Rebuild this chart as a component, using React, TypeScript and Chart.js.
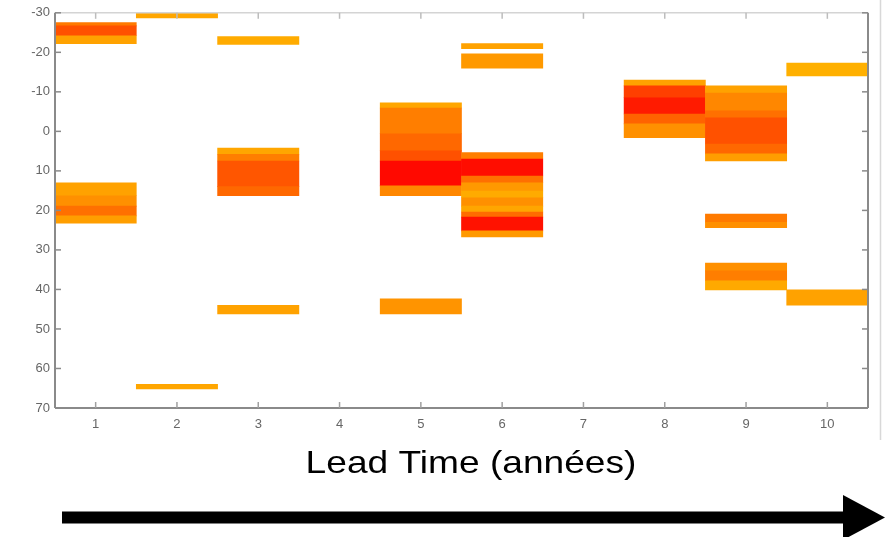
import { useEffect, useRef } from "react";
import { Chart, registerables } from "chart.js";

Chart.register(...registerables);

// Lead time categories (x) and depth tick labels (y)
const leadTimes = [1, 2, 3, 4, 5, 6, 7, 8, 9, 10];
const yTickValues = [-30, -20, -10, 0, 10, 20, 30, 40, 50, 60, 70];
const xAxisTitle = "Lead Time (années)";

// Heat-map bands: lead time, lower and upper value, intensity (0 = light orange, 1 = red)
const bandLead = [
  1, 1, 1, 1, 1, 1, 1,
  2, 2,
  3, 3, 3, 3, 3, 3,
  5, 5, 5, 5, 5, 5, 5,
  6, 6, 6, 6, 6, 6, 6, 6, 6, 6, 6, 6,
  8, 8, 8, 8, 8,
  9, 9, 9, 9, 9, 9, 9, 9, 9, 9, 9,
  10, 10,
];
const bandLow = [
  -27.5, -26.7, -24.2, 13, 16.3, 18.9, 21.4,
  -30, 64,
  -24, 4.2, 5.8, 7.5, 14, 44,
  -7.2, -5.9, 0.6, 4.9, 7.5, 13.8, 42.4,
  -22.2, -19.6, 5.4, 7.0, 11.3, 13.0, 15.1, 16.8, 18.9, 20.4, 21.7, 25.2,
  -13.0, -11.5, -8.5, -4.4, -1.9,
  -11.5, -9.7, -5.2, -3.4, 3.2, 5.7, 20.9, 23.0, 33.3, 35.3, 37.8,
  -17.3, 40.1,
];
const bandHigh = [
  -26.7, -24.2, -22.2, 16.3, 18.9, 21.4, 23.2,
  -28.7, 65.2,
  -22, 5.8, 7.5, 14, 16.3, 46.2,
  -5.9, 0.6, 4.9, 7.5, 13.8, 16.3, 46.2,
  -20.9, -16, 7.0, 11.3, 13.0, 15.1, 16.8, 18.9, 20.4, 21.7, 25.2, 26.7,
  -11.5, -8.5, -4.4, -1.9, 1.6,
  -9.7, -5.2, -3.4, 3.2, 5.7, 7.5, 23.0, 24.4, 35.3, 37.8, 40.1,
  -14.0, 44.0,
];
const bandHeat = [
  0.32, 0.55, 0.1, 0.1, 0.2, 0.38, 0.12,
  0.08, 0.08,
  0.05, 0.08, 0.3, 0.52, 0.42, 0.1,
  0.08, 0.3, 0.42, 0.55, 0.95, 0.25, 0.18,
  0.1, 0.15, 0.3, 0.93, 0.38, 0.15, 0.05, 0.2, 0.08, 0.4, 0.9, 0.15,
  0.1, 0.65, 0.85, 0.45, 0.2,
  0.1, 0.25, 0.38, 0.55, 0.42, 0.12, 0.32, 0.2, 0.2, 0.3, 0.06,
  0.02, 0.1,
];

const heatColor = (h: number) => `rgb(255, ${Math.round(180 * (1 - h))}, 0)`;

const framePlugin = {
  id: "matlabFrame",
  afterDatasetsDraw(chart: any) {
    const { ctx, chartArea, scales } = chart;
    const { left, right, top, bottom } = chartArea;
    const xs = scales.x;
    const ys = scales.y;
    const line = (x1: number, y1: number, x2: number, y2: number) => {
      ctx.beginPath();
      ctx.moveTo(x1, y1);
      ctx.lineTo(x2, y2);
      ctx.stroke();
    };
    ctx.save();
    // top border + ticks (light)
    ctx.strokeStyle = "#d4d4d4";
    ctx.lineWidth = 1.5;
    line(left, top, right, top);
    ctx.strokeStyle = "#bdbdbd";
    ctx.lineWidth = 1.5;
    xs.ticks.forEach((t: any) => {
      const px = xs.getPixelForValue(t.value);
      line(px, top, px, top + 6);
    });
    // dark axes
    ctx.strokeStyle = "#8a8a8a";
    ctx.lineWidth = 2;
    line(left, top, left, bottom);
    line(left, bottom, right, bottom);
    line(right, top, right, bottom);
    ctx.lineWidth = 1.5;
    ys.ticks.forEach((t: any) => {
      const py = ys.getPixelForValue(t.value);
      line(left, py, left + 6, py);
      line(right - 6, py, right, py);
    });
    ctx.strokeStyle = "#a0a0a0";
    xs.ticks.forEach((t: any) => {
      const px = xs.getPixelForValue(t.value);
      line(px, bottom, px, bottom - 6);
    });
    ctx.restore();
  },
  afterDraw(chart: any) {
    const { ctx } = chart;
    ctx.save();
    // faint border artifact on the right
    ctx.strokeStyle = "#d8d8d8";
    ctx.lineWidth = 1.5;
    ctx.beginPath();
    ctx.moveTo(880.5, 0);
    ctx.lineTo(880.5, 440);
    ctx.stroke();
    // x-axis title
    ctx.fillStyle = "#000";
    ctx.font = '32px "Liberation Sans", Arial, sans-serif';
    ctx.textAlign = "center";
    ctx.textBaseline = "alphabetic";
    ctx.translate(471, 473);
    ctx.scale(1.16, 1);
    ctx.fillText(xAxisTitle, 0, 0);
    ctx.setTransform(1, 0, 0, 1, 0, 0);
    // arrow
    ctx.fillStyle = "#000";
    ctx.fillRect(62, 511.5, 784, 12);
    ctx.beginPath();
    ctx.moveTo(843, 495);
    ctx.lineTo(885, 517.5);
    ctx.lineTo(843, 540);
    ctx.closePath();
    ctx.fill();
    ctx.restore();
  },
};

export default function App() {
  const canvasRef = useRef<HTMLCanvasElement | null>(null);

  useEffect(() => {
    const canvas = canvasRef.current;
    if (!canvas) return;
    const data = bandLead.map((x, i) => ({ x, y: [bandLow[i], bandHigh[i]] }));
    const chart = new Chart(canvas, {
      type: "bar",
      data: {
        datasets: [
          {
            label: "bands",
            data: data as any,
            backgroundColor: bandHeat.map(heatColor),
            borderWidth: 0,
            barPercentage: 1,
            categoryPercentage: 1,
          },
        ],
      },
      options: {
        responsive: false,
        animation: false,
        layout: { padding: { top: 12, right: 17, left: 0, bottom: 0 } },
        plugins: { legend: { display: false }, tooltip: { enabled: false }, title: { display: false } },
        scales: {
          x: {
            type: "linear",
            min: 0.5,
            max: 10.5,
            offset: false,
            grid: { display: false, drawTicks: false },
            border: { display: false },
            afterBuildTicks: (s: any) => {
              s.ticks = leadTimes.map((v) => ({ value: v }));
            },
            afterFit: (s: any) => {
              s.height = 129;
            },
            ticks: {
              padding: 9,
              color: "#666",
              font: { size: 13, family: '"Liberation Sans", Arial, sans-serif' },
              callback: (v: any) => String(v),
            },
          },
          y: {
            type: "linear",
            reverse: true,
            min: -30,
            max: 70,
            grid: { display: false, drawTicks: false },
            border: { display: false },
            afterBuildTicks: (s: any) => {
              s.ticks = yTickValues.map((v) => ({ value: v }));
            },
            afterFit: (s: any) => {
              s.width = 55;
            },
            ticks: {
              padding: 5,
              color: "#666",
              font: { size: 13, family: '"Liberation Sans", Arial, sans-serif' },
              callback: (v: any) => String(v),
            },
          },
        },
      },
      plugins: [framePlugin],
    });
    return () => chart.destroy();
  }, []);

  return (
    <div style={{ position: "fixed", left: 0, top: 0, width: 885, height: 537, background: "#fff" }}>
      <canvas ref={canvasRef} width={885} height={537} />
    </div>
  );
}
